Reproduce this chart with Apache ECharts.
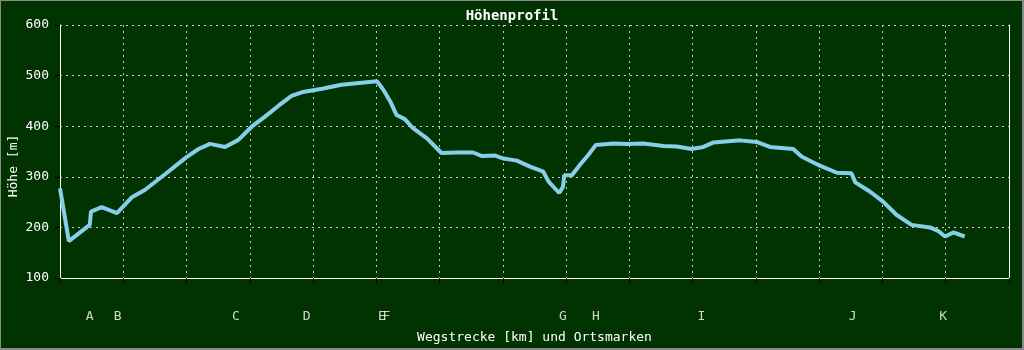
<!DOCTYPE html>
<html>
<head>
<meta charset="utf-8">
<script src="https://cdn.jsdelivr.net/npm/echarts@6/dist/echarts.min.js"></script>
<style>
html,body{margin:0;padding:0;background:#003300;}
#wrap{position:relative;width:1024px;height:350px;}
#chart{position:absolute;left:0;top:0;width:1024px;height:350px;}
#frame{position:absolute;left:0;top:0;width:1024px;height:350px;box-sizing:border-box;border-style:solid;border-color:#8a8a8a;border-width:1px 2px 2px 1px;pointer-events:none;}
</style>
</head>
<body>
<div id="wrap"><div id="chart"></div><div id="frame"></div></div>
<script>
const titleText = 'Höhenprofil';
const yAxisTitle = 'Höhe [m]';
const xAxisTitle = 'Wegstrecke [km] und Ortsmarken';
const yTicks = [100, 200, 300, 400, 500, 600];

const distanceKm = [0, 0.14, 0.47, 0.49, 0.66, 0.9, 1.13, 1.34, 1.66, 2.0, 2.19, 2.37, 2.61, 2.82, 3.03, 3.24, 3.45, 3.66, 3.82, 4.14, 4.45, 4.77, 5.01, 5.11, 5.22, 5.32, 5.45, 5.58, 5.8, 6.03, 6.27, 6.53, 6.67, 6.88, 7.01, 7.22, 7.43, 7.64, 7.72, 7.89, 7.95, 7.97, 8.09, 8.22, 8.35, 8.47, 8.75, 8.96, 9.22, 9.54, 9.75, 9.98, 10.17, 10.33, 10.75, 11.01, 11.22, 11.59, 11.72, 12.01, 12.28, 12.51, 12.57, 12.8, 13.01, 13.22, 13.46, 13.75, 13.88, 13.99, 14.12, 14.3];
const elevation = [277, 173, 205, 231, 240, 228, 259, 274, 305, 339, 355, 365, 359, 373, 399, 419, 440, 460, 467, 474, 482, 486, 489, 472, 449, 422, 414, 396, 376, 347, 348, 348, 341, 342, 336, 332, 320, 310, 291, 268, 280, 303, 303, 324, 343, 363, 366, 365, 366, 361, 360, 355, 359, 368, 372, 369, 359, 355, 340, 322, 308, 307, 289, 271, 251, 225, 205, 200, 193, 182, 190, 182];

const markerLabels = ['A', 'B', 'C', 'D', 'E', 'F', 'G', 'H', 'I', 'J', 'K'];
const markerKm = [0.47, 0.91, 2.78, 3.9, 5.09, 5.16, 7.95, 8.47, 10.14, 12.53, 13.96];

const xMin = 0, xMax = 15, xStep = 1;

const FONT = '"DejaVu Sans Mono", "Liberation Mono", monospace';
const chart = echarts.init(document.getElementById('chart'), null, {renderer: 'canvas'});

const profile = distanceKm.map((d, i) => [d, elevation[i]]);
const markers = markerKm.map((d, i) => [d, 0.5, markerLabels[i]]);

chart.setOption({
  backgroundColor: '#003300',
  animation: false,
  title: {
    text: titleText,
    left: 'center',
    top: 4,
    textStyle: {color: '#ffffff', fontFamily: FONT, fontSize: 14, fontWeight: 'bold'}
  },
  grid: [
    {left: 60, right: 15, top: 25, bottom: 72, containLabel: false},
    {left: 60, right: 15, top: 307, height: 20, containLabel: false}
  ],
  xAxis: [
    {
      type: 'value', gridIndex: 0, min: xMin, max: xMax, interval: xStep,
      name: xAxisTitle, nameLocation: 'middle', nameGap: 53,
      nameTextStyle: {color: '#ffffff', fontFamily: FONT, fontSize: 13},
      axisLine: {show: true, lineStyle: {color: '#ffffff', width: 1}},
      axisTick: {show: true, length: 5, lineStyle: {color: '#000000', width: 1}},
      axisLabel: {show: false},
      splitLine: {show: true, lineStyle: {color: '#c8c8c8', width: 1, type: [2, 4]}}
    },
    {
      type: 'value', gridIndex: 1, min: xMin, max: xMax, show: false
    }
  ],
  yAxis: [
    {
      type: 'value', gridIndex: 0, min: yTicks[0], max: yTicks[yTicks.length - 1], interval: 100,
      axisLine: {show: true, lineStyle: {color: '#ffffff', width: 1}},
      axisTick: {show: true, length: 5, lineStyle: {color: '#000000', width: 1}},
      axisLabel: {show: true, color: '#ffffff', fontFamily: FONT, fontSize: 13, margin: 11},
      splitLine: {show: true, lineStyle: {color: '#c8c8c8', width: 1, type: [2, 4]}}
    },
    {
      type: 'value', gridIndex: 0, position: 'right', min: yTicks[0], max: yTicks[yTicks.length - 1],
      axisLine: {show: true, lineStyle: {color: '#ffffff', width: 1}},
      axisTick: {show: false}, axisLabel: {show: false}, splitLine: {show: false}
    },
    {
      type: 'value', gridIndex: 1, min: 0, max: 1, show: false
    }
  ],
  graphic: [
    {
      type: 'text', x: 14, y: 166, rotation: Math.PI / 2,
      style: {text: yAxisTitle, fill: '#ffffff', font: '13px ' + FONT, textAlign: 'center', textVerticalAlign: 'middle'}
    }
  ],
  series: [
    {
      type: 'line', xAxisIndex: 0, yAxisIndex: 0,
      data: profile, showSymbol: false, symbol: 'none',
      lineStyle: {color: '#87ceeb', width: 4},
      itemStyle: {color: '#87ceeb'}
    },
    {
      type: 'scatter', xAxisIndex: 1, yAxisIndex: 2,
      data: markers, symbolSize: 1,
      itemStyle: {color: 'rgba(0,0,0,0)'},
      label: {
        show: true, position: 'inside', color: '#ffffff', fontFamily: FONT, fontSize: 13,
        formatter: p => p.data[2]
      }
    }
  ]
});
</script>
</body>
</html>
